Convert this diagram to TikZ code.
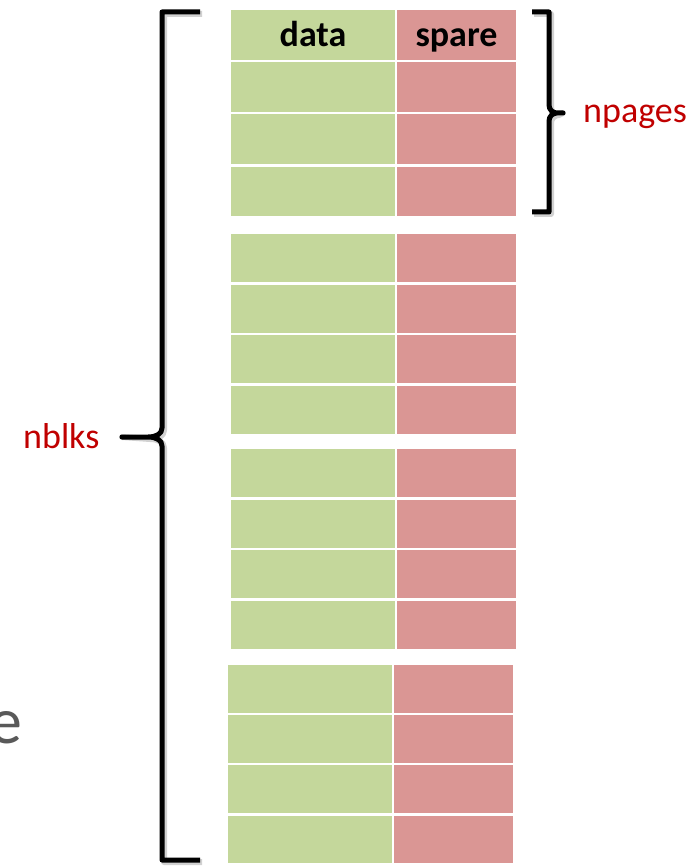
\documentclass[tikz,border=0pt]{standalone}
\usepackage{fontspec}
\setmainfont{Carlito}
\definecolor{datagreen}{RGB}{196,215,155}
\definecolor{sparepink}{RGB}{218,150,148}
\definecolor{labelred}{RGB}{192,0,0}
\definecolor{textgrey}{RGB}{89,89,89}
\tikzset{
  cellbase/.style={rectangle, inner sep=0pt, outer sep=0pt, anchor=north west,
    text height=25pt, text depth=2pt,
    font=\fontsize{36}{40}\selectfont\bfseries},
  datacell/.style={cellbase, fill=datagreen, minimum width=164pt},
  sparecell/.style={cellbase, fill=sparepink, minimum width=119pt},
  bracepath/.style={line width=5pt, black, line join=round},
  braceshadow/.style={line width=6pt, black, opacity=0.18, line join=round},
  redlabel/.style={inner sep=0pt, anchor=base west, text=labelred,
    font=\fontsize{36}{40}\selectfont},
}
\begin{document}
\begin{tikzpicture}[x=1pt,y=-1pt]
\useasboundingbox (0,0) rectangle (693,866);
\clip (0,0) rectangle (693,866);

% four blocks of four pages: block / top / x shift / row pitch
\foreach \b/\top/\dx/\p in {1/10/0/52.2, 2/234/0/50.6, 3/449/0/50.6, 4/665/-3/50.2}{
  \foreach \r in {1,...,4}{
    \pgfmathsetmacro{\yy}{\top+(\r-1)*\p}
    \pgfmathsetmacro{\hh}{\p-2.5}
    \node[datacell, minimum height=\hh pt] (d\b\r) at (231+\dx,\yy) {};
    \node[sparecell, minimum height=\hh pt] (s\b\r) at (397+\dx,\yy) {};
  }
}
% column headings
\node[cellbase, anchor=center] (hdata) at (d11.center) {data};
\node[cellbase, anchor=center] (hspare) at (s11.center) {spare};

% brace round all blocks
\coordinate (bigtip) at (122,437);
\coordinate (smalltip) at (563,113);
\foreach \s/\st in {2/braceshadow, 0/bracepath}{
  \begin{scope}[shift={(\s,\s)}]
    \draw[\st] (200,12) -| (162,428) .. controls (162,434) and (156,437) .. (148,437)
      -- (bigtip) -- (148,437) .. controls (156,437) and (162,440) .. (162,446)
      |- (200,860);
    \draw[\st] (532,12) -| (549,105) .. controls (549,110) and (553,113) .. (557,113)
      -- (smalltip) -- (557,113) .. controls (553,113) and (549,116) .. (549,121)
      |- (532,212);
  \end{scope}
}

% labels
\node[redlabel] (npages) at (583,123) {npages};
\node[redlabel] (nblks) at (23,448) {nblks};
\node[inner sep=0pt, anchor=base east, text=textgrey,
  font=\fontsize{66}{70}\selectfont] (tail) at (23,743) {e};
\end{tikzpicture}
\end{document}
